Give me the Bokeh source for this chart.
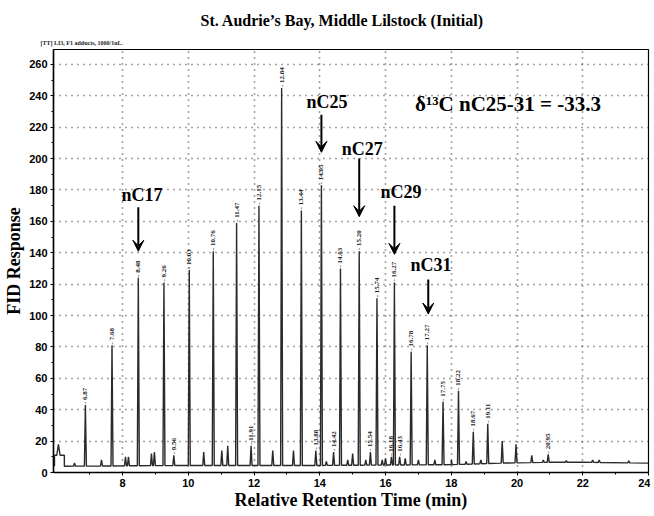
import numpy as np
from math import pi
from bokeh.plotting import figure
from bokeh.models import (Range1d, Label, Arrow, VeeHead, FixedTicker,
                          ColumnDataSource, LabelSet, Title)
from bokeh.embed import file_html
from bokeh.resources import INLINE

# ---------------- data ----------------
peak_times = [6.87, 7.68, 8.48, 9.26, 9.56, 10.03, 10.76, 11.47, 11.91, 12.15,
              12.84, 13.44, 13.88, 14.05, 14.42, 14.63, 15.20, 15.54, 15.74,
              16.18, 16.27, 16.43, 16.78, 17.27, 17.75, 18.22, 18.67, 19.11, 20.95]
peak_heights = [43, 81, 124, 121, 11, 129, 141, 159, 17, 170,
                245, 167, 14, 183, 13, 130, 141, 13, 111,
                10, 121, 10, 77, 81, 45, 52, 26, 31, 11.5]
peak_labels = ["6.87", "7.68", "8.48", "9.26", "9.56", "10.03", "10.76", "11.47",
               "11.91", "12.15", "12.84", "13.44", "13.88", "14.05", "14.42",
               "14.63", "15.20", "15.54", "15.74", "16.18", "16.27", "16.43",
               "16.78", "17.27", "17.75", "18.22", "18.67", "19.11", "20.95"]

minor_times = [6.54, 7.36, 8.09, 8.18, 8.88, 8.97, 10.47, 11.02, 11.20, 12.57,
               13.20, 14.20, 14.85, 15.00, 15.40, 15.90, 16.00, 16.60, 17.00,
               17.50, 18.00, 18.45, 18.90, 19.55, 19.97, 20.45, 20.80, 21.50,
               22.30, 22.50, 23.40]
minor_heights = [6, 8, 10, 10, 12, 13, 13, 14, 17, 14,
                 14, 7, 8, 12, 8, 8, 9, 9, 8,
                 8, 8, 7, 8, 20, 18, 11, 8, 7.5,
                 8, 8, 7.5]

solvent_x = [5.93, 5.93, 6.00, 6.05, 6.10, 6.23, 6.23]
solvent_y = [4, 11, 11, 18, 11, 11, 4]

base_x = [6.30, 10.0, 14.0, 18.0, 19.5, 21.0, 22.0, 24.0]
base_y = [4.0, 4.5, 4.5, 5.0, 6.0, 6.5, 6.5, 6.0]

ann_names = ["nC17", "nC25", "nC27", "nC29", "nC31"]
ann_x = [8.48, 14.05, 15.20, 16.27, 17.30]
ann_label_x = [8.59, 14.22, 15.29, 16.47, 17.38]
ann_label_y = [177, 236, 206, 179, 132]
ann_tail = [169, 228, 200, 170, 123]
ann_tip = [141, 204, 163, 139, 101]

x_ticks = [8, 10, 12, 14, 16, 18, 20, 22, 24]
x_minor = [7, 9, 11, 13, 15, 17, 19, 21, 23]
y_ticks = list(range(0, 261, 20))
y_minor = list(range(10, 261, 20))

title_text = "St. Audrie\u2019s Bay, Middle Lilstock (Initial)"
sub_text = "[TT] LI3, F1 adducts, 1000/1uL."
delta_text = "\u03b4\u00b9\u00b3C nC25-31 = -33.3"

# ---------------- build the trace ----------------
w = 0.03
pts = list(zip(solvent_x, solvent_y))
body = list(zip(base_x, base_y))
for t, h in list(zip(peak_times, peak_heights)) + list(zip(minor_times, minor_heights)):
    b = float(np.interp(t, base_x, base_y))
    body += [(t - w, b), (t, h), (t + w, b)]
body.sort(key=lambda q: q[0])
pts += body
tx = [q[0] for q in pts]
ty = [q[1] for q in pts]

SERIF = "Liberation Serif"
SANS = "Liberation Sans"

p = figure(width=650, height=512, x_range=Range1d(5.9, 24.0),
           y_range=Range1d(0, 269.5), output_backend="svg", title=None,
           toolbar_location=None, min_border_left=53, min_border_right=2,
           min_border_top=49, min_border_bottom=38)
p.outline_line_color = "black"
p.outline_line_width = 1.2

# grid
p.xgrid.ticker = FixedTicker(ticks=x_ticks[:-1])
p.ygrid.ticker = FixedTicker(ticks=y_ticks[1:])
for g in (p.xgrid, p.ygrid):
    g.grid_line_color = "#444444"
    g.grid_line_dash = "1 5"
    g.grid_line_width = 1.6

# axes
p.xaxis.ticker = FixedTicker(ticks=x_ticks, minor_ticks=x_minor)
p.yaxis.ticker = FixedTicker(ticks=y_ticks, minor_ticks=y_minor)
for ax in (p.xaxis, p.yaxis):
    ax.axis_line_color = "black"
    ax.axis_line_width = 1.5
    ax.major_tick_line_color = "black"
    ax.minor_tick_line_color = "black"
    ax.major_tick_out = 3
    ax.major_tick_in = 0
    ax.minor_tick_out = 2
    ax.minor_tick_in = 0
    ax.major_label_text_font = SANS
    ax.major_label_text_font_style = "bold"
    ax.major_label_text_font_size = "11px"
    ax.major_label_text_color = "black"
    ax.axis_label_text_font = SERIF
    ax.axis_label_text_font_style = "bold"
    ax.axis_label_text_font_size = "18px"
    ax.axis_label_text_color = "black"
p.xaxis.major_label_standoff = 3
p.xaxis.axis_label_standoff = 0
p.yaxis.major_label_standoff = 3
p.yaxis.axis_label_standoff = 2
p.xaxis.axis_label = "Relative Retention Time (min)"
p.yaxis.axis_label = "FID Response"

# titles (first added sits nearest the frame)
p.add_layout(Title(text=sub_text, align="left", offset=-13, standoff=8,
                   text_font=SERIF, text_font_style="bold",
                   text_font_size="6px", text_color="#222222"), "above")
p.add_layout(Title(text=title_text, align="left", offset=147, standoff=9,
                   text_font=SERIF, text_font_style="bold",
                   text_font_size="16px", text_color="black"), "above")

# trace
p.line(tx, ty, line_color="#2a2a2a", line_width=1.4)

# peak labels
src = ColumnDataSource(dict(x=peak_times, y=peak_heights,
                            t=["- " + s for s in peak_labels]))
p.add_layout(LabelSet(x="x", y="y", text="t", source=src, angle=pi / 2,
                      text_align="left", text_baseline="middle", y_offset=1,
                      text_font=SERIF, text_font_size="7px",
                      text_font_style="bold", text_color="#222222"))

# arrows + compound labels
for name, xa, lx, ly, y0, y1 in zip(ann_names, ann_x, ann_label_x, ann_label_y,
                                     ann_tail, ann_tip):
    p.add_layout(Arrow(end=VeeHead(size=11, fill_color="black",
                                   line_color="black", line_width=1),
                       x_start=xa, y_start=y0, x_end=xa, y_end=y1,
                       line_width=2, line_color="black"))
    p.add_layout(Label(x=lx, y=ly, text=name, text_align="center",
                       text_baseline="middle", text_font=SERIF,
                       text_font_style="bold", text_font_size="18px",
                       text_color="black"))

p.add_layout(Label(x=16.9, y=235, text=delta_text, text_align="left",
                   text_baseline="middle", text_font=SERIF,
                   text_font_style="bold", text_font_size="21px",
                   text_color="black"))

open("out.html", "w").write(file_html(p, INLINE))
